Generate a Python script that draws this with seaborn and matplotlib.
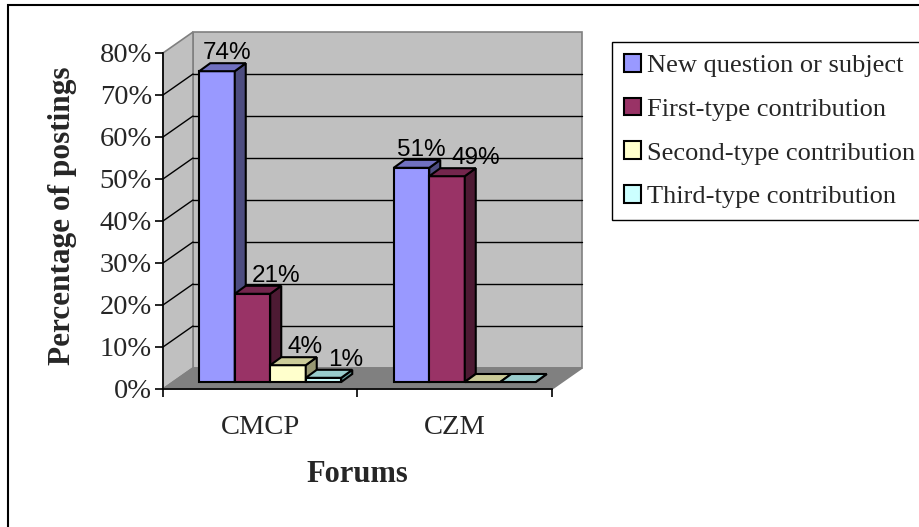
import numpy as np
import pandas as pd
import matplotlib
matplotlib.use("Agg")
import matplotlib.pyplot as plt
from matplotlib.patches import Polygon, Rectangle, Patch
from matplotlib.colors import to_hex
import seaborn as sns

# ---- data -----------------------------------------------------------------
forums = ["CMCP", "CZM"]
posting_types = ["New question or subject", "First-type contribution",
                 "Second-type contribution", "Third-type contribution"]
cmcp_pct = [74, 21, 4, 1]
czm_pct = [51, 49, 0, 0]
y_ticks = [0, 10, 20, 30, 40, 50, 60, 70, 80]
y_tick_labels = [f"{t}%" for t in y_ticks]

# ---- colours: front, side and top faces of the 3-D columns ----------------
front_colors = ["#9999FF", "#993366", "#FFFFCC", "#CCFFFF"]
side_colors = ["#4D4D80", "#4D1A33", "#999973", "#669999"]
top_colors = ["#7070C0", "#73264D", "#CCCC99", "#99CCCC"]
wall_color = "#C0C0C0"
floor_color = "#808080"
edge_gray = "#808080"

df = pd.DataFrame({
    "Forums": np.repeat(forums, len(posting_types)),
    "Type": posting_types * len(forums),
    "Pct": cmcp_pct + czm_pct,
})

sns.set_style("white")
plt.rcParams["font.family"] = ["Liberation Serif", "DejaVu Serif"]

W, H = 920, 527
fig = plt.figure(figsize=(W / 100, H / 100), dpi=100)

# front face of the plot box, in pixels
fx0, fx1, fy0, fy1 = 163, 552, 389, 53
ax = fig.add_axes([fx0 / W, 1 - fy0 / H, (fx1 - fx0) / W, (fy0 - fy1) / H])
ax.patch.set_visible(False)

px_per_cat = (fx1 - fx0) / 2
px_per_pct = (fy0 - fy1) / 80


def ddx(px):
    return px / px_per_cat


def ddy(px):
    return px / px_per_pct


WX, WY = ddx(30), ddy(21)        # depth of the box (walls/floor)
SX, SY = ddx(10), ddy(7)         # columns stand a bit into the floor
BX, BY = ddx(11), ddy(8)         # depth of each column

sns.barplot(data=df, x="Forums", y="Pct", hue="Type", hue_order=posting_types,
            palette=front_colors, width=0.73, saturation=1, edgecolor="black",
            linewidth=1.5, legend=False, ax=ax)
bars = list(ax.patches)

xl, xr, ytop = -0.5, 1.5, 80
ax.set_xlim(xl, xr)
ax.set_ylim(0, ytop)

# walls and floor
ax.add_patch(Polygon([(xl + WX, WY), (xr + WX, WY), (xr + WX, ytop + WY), (xl + WX, ytop + WY)],
                     closed=True, facecolor=wall_color, edgecolor=edge_gray, lw=1.2,
                     clip_on=False, zorder=0.2))
ax.add_patch(Polygon([(xl, 0), (xl + WX, WY), (xl + WX, ytop + WY), (xl, ytop)],
                     closed=True, facecolor=wall_color, edgecolor=edge_gray, lw=1.2,
                     clip_on=False, zorder=0.2))
ax.add_patch(Polygon([(xl, 0), (xr, 0), (xr + WX, WY), (xl + WX, WY)],
                     closed=True, facecolor=floor_color, edgecolor=edge_gray, lw=1.2,
                     clip_on=False, zorder=0.25))

# gridlines on the back and side walls
for v in y_ticks[1:-1]:
    ax.plot([xl + WX, xr + WX], [v + WY, v + WY], color="black", lw=1,
            clip_on=False, zorder=0.3)
    ax.plot([xl, xl + WX], [v, v + WY], color="black", lw=1,
            clip_on=False, zorder=0.3)

# give each column its depth, and put a value label over it
bars.sort(key=lambda p: p.get_x())
boxes = []    # (x0, x1, y0, y1) of each drawn column incl. side and top, data units
labels = []   # (text, column index)
for i, p in enumerate(bars):
    k = front_colors.index(to_hex(p.get_facecolor()).upper())
    z = 2 + i * 0.01
    x = p.get_x() + SX
    w = p.get_width()
    h = p.get_height()
    p.set_x(x)
    p.set_y(SY)
    p.set_zorder(z)
    p.set_clip_on(False)
    top = SY + h
    ax.add_patch(Polygon([(x + w, SY), (x + w, top), (x + w + BX, top + BY), (x + w + BX, SY + BY)],
                         closed=True, facecolor=side_colors[k], edgecolor="black",
                         lw=1.5, clip_on=False, zorder=z))
    ax.add_patch(Polygon([(x, top), (x + w, top), (x + w + BX, top + BY), (x + BX, top + BY)],
                         closed=True, facecolor=top_colors[k], edgecolor="black",
                         lw=1.5, clip_on=False, zorder=z))
    boxes.append((x, x + w + BX, SY, top + BY))
    if h > 0:
        t = ax.text(x + w / 2 + ddx(10), top + BY + ddy(4), f"{h:.0f}%",
                    ha="center", va="baseline", family="Liberation Sans",
                    fontsize=17.5, color="black", zorder=5, clip_on=False)
        labels.append((t, i))

# axes
for s in ["top", "right"]:
    ax.spines[s].set_visible(False)
for s in ["left", "bottom"]:
    ax.spines[s].set_color("black")
    ax.spines[s].set_linewidth(1.2)
    ax.spines[s].set_zorder(1)

ax.set_yticks(y_ticks, y_tick_labels)
ax.set_xticks([xl, 0.5, xr], ["", "", ""])
ax.set_xticks([0, 1], forums, minor=True)
ax.tick_params(axis="y", which="major", left=True, direction="out", length=6,
               width=1.2, color="black", labelsize=20.5, pad=2)
ax.tick_params(axis="x", which="major", bottom=True, direction="out", length=6,
               width=1.2, color="black")
ax.tick_params(axis="x", which="minor", bottom=True, length=0, labelsize=20.5, pad=19)
ax.set_xlabel("")
ax.set_ylabel("")

fig.text(357 / W, 1 - 475 / H, "Forums", ha="center", va="center",
         fontsize=22, fontweight="bold")
fig.text(63 / W, 1 - 216 / H, "Percentage of postings", ha="center", va="center",
         rotation=90, fontsize=22.5, fontweight="bold")

handles = [Patch(facecolor=c, edgecolor="black", linewidth=1.5) for c in front_colors]
leg = fig.legend(handles, posting_types, loc="upper left",
                 bbox_to_anchor=(612 / W, 1 - 42 / H), borderaxespad=0,
                 frameon=True, fancybox=False, edgecolor="black", framealpha=1,
                 fontsize=19, handlelength=0.66, handleheight=0.66,
                 handletextpad=0.2, labelspacing=0.78, borderpad=0.45)
leg.get_frame().set_linewidth(1)

# outer frame of the chart
fig.patches.append(Rectangle((8 / W, -0.05), 1.2, 1 - 5 / H + 0.05,
                             transform=fig.transFigure, fill=False,
                             edgecolor="black", lw=1.5))

# keep value labels clear of taller columns and labels to their left
fig.canvas.draw()
renderer = fig.canvas.get_renderer()
to_px = ax.transData.transform
gap = 6
done = []
for t, i in labels:
    bb = t.get_window_extent(renderer)
    lx0, lx1, ly0, ly1 = bb.x0, bb.x1, bb.y0, bb.y1
    obstacles = []
    for j in range(i):
        bx0, bx1, by0, by1 = boxes[j]
        (px0, py0), (px1, py1) = to_px((bx0, by0)), to_px((bx1, by1))
        obstacles.append((px0, px1, py0, py1))
    obstacles += done
    shift = 0.0
    for ox0, ox1, oy0, oy1 in obstacles:
        if ly0 < oy1 and ly1 > oy0 and lx1 + shift > ox0 and lx0 + shift < ox1 + gap:
            shift = ox1 + gap - lx0
    if shift:
        xt, yt = t.get_position()
        t.set_x(xt + ddx(shift))
    done.append((lx0 + shift, lx1 + shift, ly0, ly1))

fig.savefig("out.png", dpi=100)
